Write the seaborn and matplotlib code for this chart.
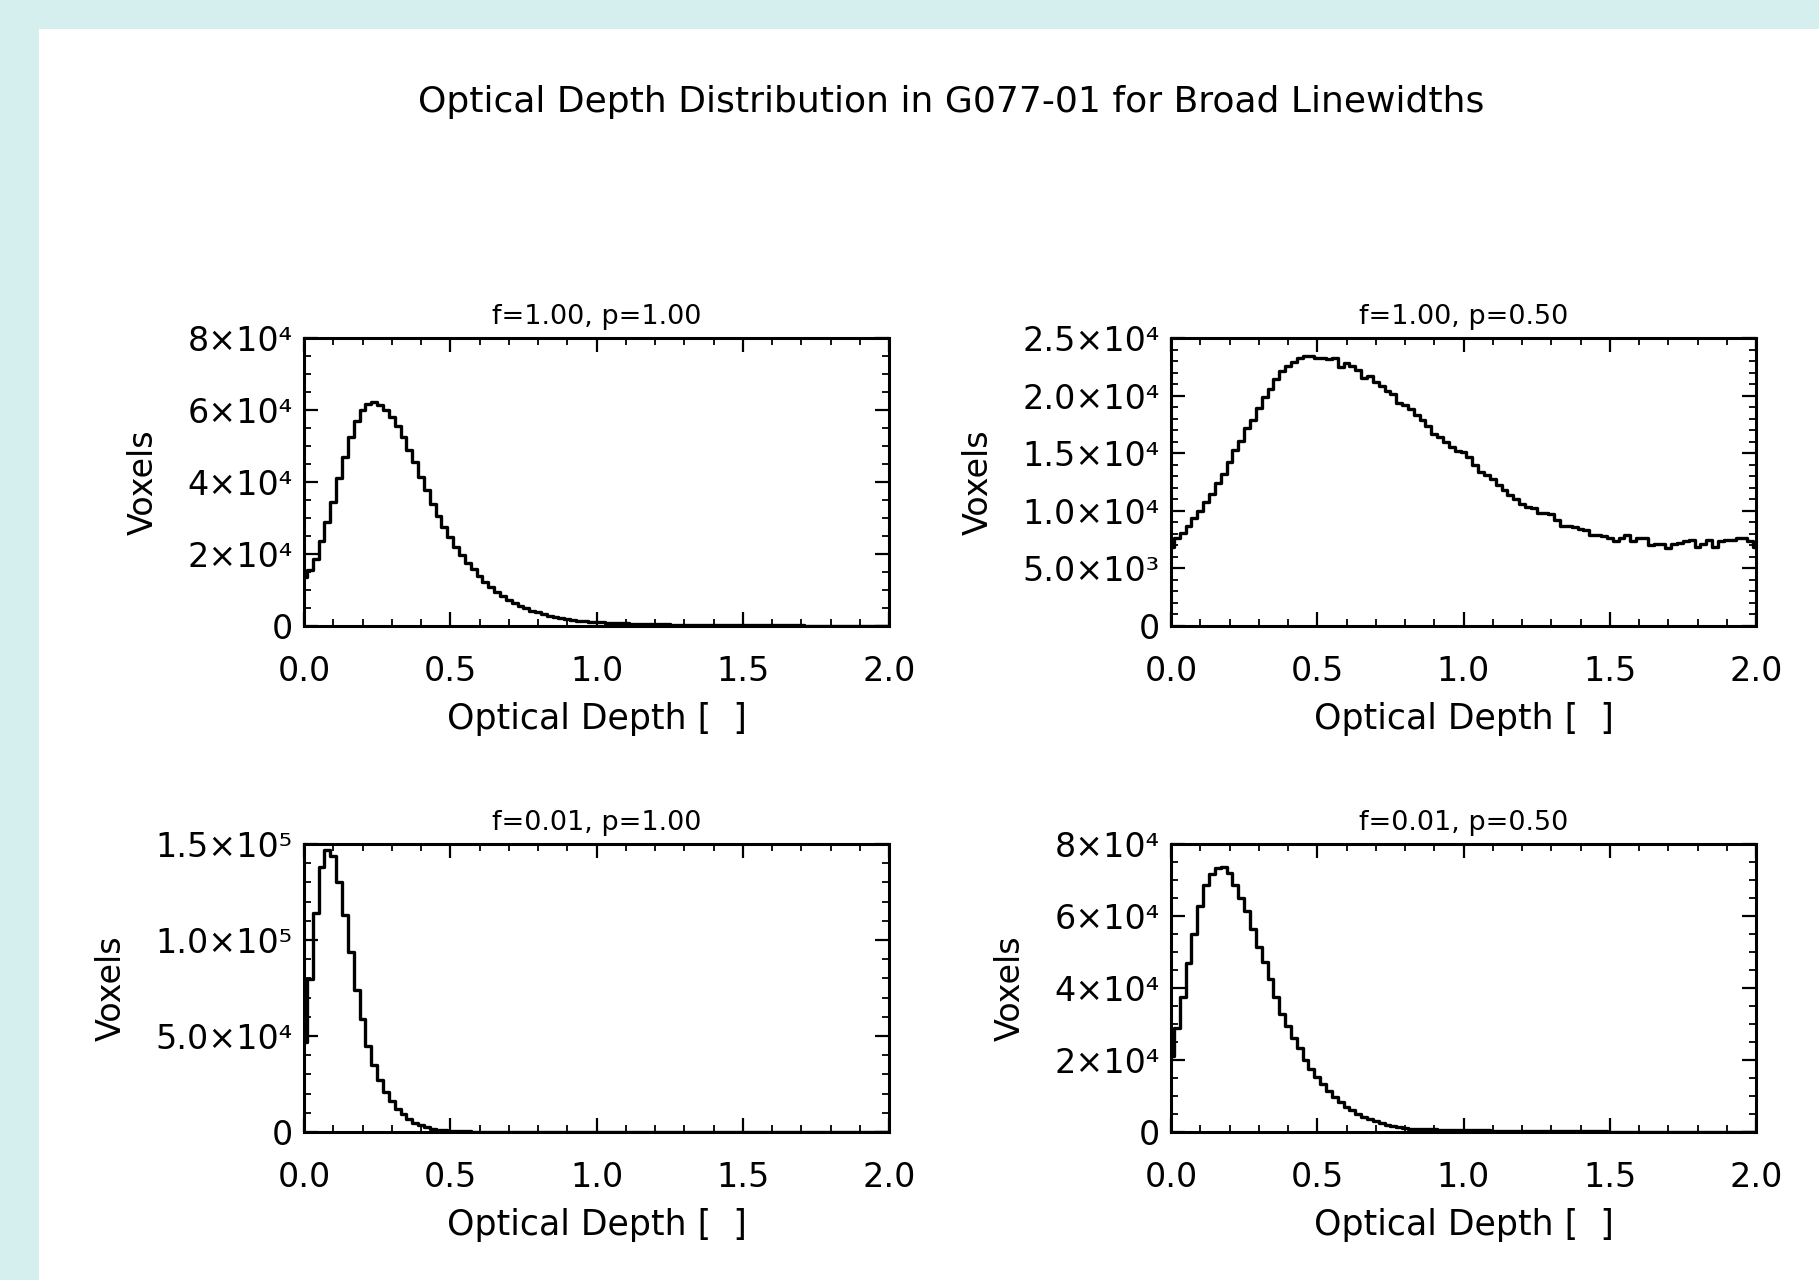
import matplotlib
matplotlib.use("Agg")
import matplotlib.pyplot as plt
from matplotlib.patches import Rectangle
from matplotlib.ticker import MultipleLocator, FixedLocator, FixedFormatter, FormatStrFormatter
import numpy as np
import pandas as pd
import seaborn as sns

# ---------------------------------------------------------------------------
# Data: voxel counts (thousands) per optical-depth bin, bin width 0.02
# ---------------------------------------------------------------------------
BIN_WIDTH = 0.02

counts_f100_p100 = [
    13.5, 15.5, 18.5, 23.5, 29.0, 34.5, 41.0, 47.0, 52.5, 57.0,
    60.0, 61.8, 62.3, 61.5, 60.0, 58.0, 55.5, 52.5, 49.0, 45.5,
    41.5, 37.7, 34.0, 30.6, 27.6, 24.8, 22.0, 19.7, 17.6, 15.7,
    13.9, 12.2, 10.8, 9.4, 8.3, 7.3, 6.4, 5.6, 4.9, 4.3,
    3.8, 3.3, 2.9, 2.5, 2.2, 1.95, 1.7, 1.5, 1.35, 1.2,
    1.1, 1.0, 0.92, 0.85, 0.78, 0.72, 0.66, 0.61, 0.56, 0.52,
    0.48, 0.45, 0.42, 0.39, 0.36, 0.34, 0.32, 0.30, 0.28, 0.26,
    0.25, 0.24, 0.23, 0.22, 0.21, 0.20, 0.19, 0.18, 0.17, 0.17,
    0.16, 0.16, 0.15, 0.15, 0.14, 0.14, 0.13, 0.13, 0.13, 0.12,
    0.12, 0.12, 0.11, 0.11, 0.11, 0.10, 0.10, 0.10, 0.10, 0.10,
    0.10,
]

counts_f100_p050 = [
    6.9, 7.6, 8.1, 8.7, 9.4, 10.0, 10.8, 11.5, 12.4, 13.2,
    14.2, 15.3, 16.1, 17.2, 17.9, 18.9, 19.9, 20.6, 21.4, 22.1,
    22.6, 22.9, 23.3, 23.4, 23.4, 23.3, 23.3, 23.2, 23.3, 22.5,
    22.8, 22.6, 22.2, 21.5, 21.7, 21.2, 20.8, 20.4, 20.1, 19.4,
    19.2, 18.8, 18.3, 17.9, 17.4, 16.7, 16.4, 16.0, 15.5, 15.2,
    15.1, 14.7, 14.0, 13.4, 13.1, 12.8, 12.2, 11.8, 11.4, 11.0,
    10.6, 10.3, 10.2, 9.8, 9.8, 9.7, 9.2, 8.7, 8.7, 8.6,
    8.4, 8.3, 7.9, 7.9, 7.8, 7.6, 7.4, 7.6, 7.9, 7.4,
    7.6, 7.6, 7.0, 7.1, 7.1, 6.8, 7.1, 7.2, 7.4, 7.5,
    6.9, 7.1, 7.5, 6.9, 7.4, 7.5, 7.5, 7.6, 7.6, 7.4,
    6.9,
]

counts_f001_p100 = [
    46.7, 79.8, 114.0, 138.0, 147.0, 144.0, 130.0, 113.0, 93.7, 74.2,
    58.9, 44.9, 34.8, 27.0, 20.6, 16.2, 12.2, 9.2, 6.6, 4.9,
    3.5, 2.4, 1.7, 1.2, 0.9, 0.7, 0.5, 0.4, 0.3, 0.25,
    0.2, 0.15, 0.12, 0.1, 0.08, 0.06, 0.05, 0.04, 0.03, 0.03,
    0.02, 0.02, 0.02, 0.01, 0.01, 0.01, 0.01, 0.0, 0.0, 0.0,
    0.0, 0.0, 0.0, 0.0, 0.0, 0.0, 0.0, 0.0, 0.0, 0.0,
    0.0, 0.0, 0.0, 0.0, 0.0, 0.0, 0.0, 0.0, 0.0, 0.0,
    0.0, 0.0, 0.0, 0.0, 0.0, 0.0, 0.0, 0.0, 0.0, 0.0,
    0.0, 0.0, 0.0, 0.0, 0.0, 0.0, 0.0, 0.0, 0.0, 0.0,
    0.0, 0.0, 0.0, 0.0, 0.0, 0.0, 0.0, 0.0, 0.0, 0.0,
    0.0,
]

counts_f001_p050 = [
    21.0, 28.8, 37.6, 47.0, 55.1, 62.9, 68.5, 71.6, 73.3, 73.5,
    71.9, 68.7, 65.1, 61.4, 56.4, 51.5, 47.1, 42.5, 37.6, 32.9,
    29.5, 26.2, 23.2, 20.0, 17.6, 15.3, 13.2, 11.3, 9.7, 8.4,
    7.0, 6.0, 5.1, 4.2, 3.5, 3.0, 2.4, 2.0, 1.7, 1.4,
    1.1, 0.93, 0.85, 0.8, 0.76, 0.72, 0.68, 0.64, 0.61, 0.58,
    0.55, 0.52, 0.49, 0.46, 0.43, 0.40, 0.38, 0.36, 0.34, 0.32,
    0.30, 0.28, 0.26, 0.25, 0.24, 0.22, 0.21, 0.20, 0.19, 0.18,
    0.17, 0.16, 0.15, 0.14, 0.14, 0.13, 0.12, 0.12, 0.11, 0.10,
    0.10, 0.09, 0.09, 0.08, 0.08, 0.08, 0.07, 0.07, 0.07, 0.06,
    0.06, 0.06, 0.06, 0.05, 0.05, 0.05, 0.05, 0.05, 0.04, 0.04,
    0.04,
]

panel_titles = ["f=1.00, p=1.00", "f=1.00, p=0.50", "f=0.01, p=1.00", "f=0.01, p=0.50"]
panel_counts = [counts_f100_p100, counts_f100_p050, counts_f001_p100, counts_f001_p050]
panel_ymax = [8e4, 2.5e4, 1.5e5, 8e4]
panel_yticks = [
    [0, 2e4, 4e4, 6e4, 8e4],
    [0, 5e3, 1e4, 1.5e4, 2e4, 2.5e4],
    [0, 5e4, 1e5, 1.5e5],
    [0, 2e4, 4e4, 6e4, 8e4],
]
panel_yticklabels = [
    ["0", "2×10⁴", "4×10⁴", "6×10⁴", "8×10⁴"],
    ["0", "5.0×10³", "1.0×10⁴", "1.5×10⁴", "2.0×10⁴", "2.5×10⁴"],
    ["0", "5.0×10⁴", "1.0×10⁵", "1.5×10⁵"],
    ["0", "2×10⁴", "4×10⁴", "6×10⁴", "8×10⁴"],
]
panel_yminor = [5e3, 1e3, 1e4, 5e3]

# ---------------------------------------------------------------------------
# Figure
# ---------------------------------------------------------------------------
sns.set_theme(style="ticks")
plt.rcParams["font.family"] = ["DejaVu Sans"]
plt.rcParams["text.color"] = "black"
plt.rcParams["axes.labelcolor"] = "black"
plt.rcParams["xtick.color"] = "black"
plt.rcParams["ytick.color"] = "black"

W, H = 1819, 1280
fig = plt.figure(figsize=(W / 100, H / 100), dpi=100, facecolor="#d5eeee")
fig.patches.append(Rectangle((39 / W, 0), 1, 1 - 29 / H, transform=fig.transFigure,
                             facecolor="white", edgecolor="none", zorder=-1))

fig.text(951 / W, 1 - 102 / H, "Optical Depth Distribution in G077-01 for Broad Linewidths",
         ha="center", va="center", fontsize=26, color="black")

# axes boxes in pixels: left, top
ax_w, ax_h = 585, 288
boxes = [(304, 338), (1171, 338), (304, 844), (1171, 844)]

for i, (left, top) in enumerate(boxes):
    ax = fig.add_axes([left / W, 1 - (top + ax_h) / H, ax_w / W, ax_h / H])
    ax.set_facecolor("white")
    counts = np.array(panel_counts[i]) * 1e3
    df = pd.DataFrame({"tau": np.arange(len(counts)) * BIN_WIDTH, "voxels": counts})
    sns.lineplot(data=df, x="tau", y="voxels", ax=ax, color="black", linewidth=2.4,
                 drawstyle="steps-mid", estimator=None)

    ax.set_xlim(0, 2)
    ax.set_ylim(0, panel_ymax[i])
    ax.xaxis.set_major_locator(MultipleLocator(0.5))
    ax.xaxis.set_minor_locator(MultipleLocator(0.1))
    ax.xaxis.set_major_formatter(FormatStrFormatter("%.1f"))
    ax.yaxis.set_major_locator(FixedLocator(panel_yticks[i]))
    ax.yaxis.set_major_formatter(FixedFormatter(panel_yticklabels[i]))
    ax.yaxis.set_minor_locator(MultipleLocator(panel_yminor[i]))

    ax.tick_params(which="both", direction="in", top=True, right=True, colors="black")
    ax.tick_params(which="major", length=10, width=1.6, labelsize=24)
    ax.tick_params(axis="x", which="major", pad=21)
    ax.tick_params(axis="y", which="major", pad=8)
    ax.tick_params(which="minor", length=5, width=1.3)
    for sp in ax.spines.values():
        sp.set_linewidth(2.2)
        sp.set_color("black")

    ax.set_title(panel_titles[i], fontsize=19.5, pad=10, color="black")
    ax.set_xlabel("Optical Depth [  ]", fontsize=25, labelpad=10, color="black")
    ax.set_ylabel("Voxels", fontsize=24, labelpad=20, color="black")

fig.savefig("out.png", dpi=100, facecolor=fig.get_facecolor())
